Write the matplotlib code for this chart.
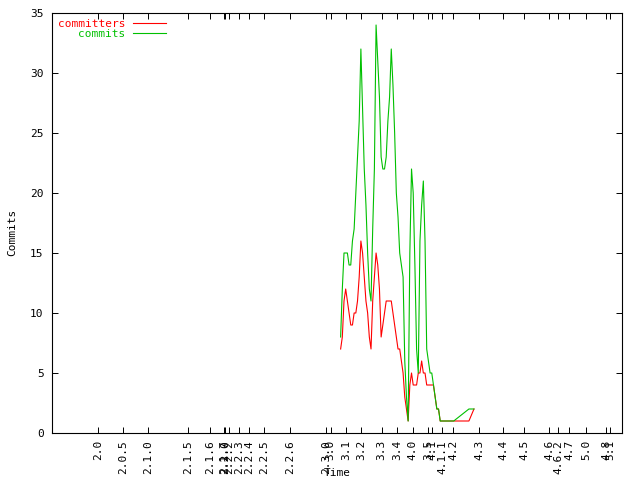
import numpy as np
import matplotlib
matplotlib.use("Agg")
import matplotlib.pyplot as plt

# time axis in weeks since start of the project history
weeks = [171, 172, 173, 174, 175, 176, 177, 178, 179, 180,
         181, 182, 183, 184, 185, 186, 187, 188, 189, 190,
         191, 192, 193, 194, 195, 196, 197, 198, 199, 200,
         201, 202, 203, 204, 205, 206, 207, 208, 209, 210,
         211, 212, 213, 214, 215, 216, 217, 218, 219, 220,
         221, 222, 223, 224, 225, 226, 227, 228, 229, 230,
         231, 238, 247, 250]

commits = [8, 12, 15, 15, 15, 14, 14, 16, 17, 20,
           23, 26, 32, 27, 22, 19, 15, 12, 11, 17,
           22, 34, 31, 28, 23, 22, 22, 23, 26, 28,
           32, 29, 25, 20, 18, 15, 14, 13, 6, 3,
           1, 15, 22, 20, 14, 7, 5, 16, 19, 21,
           16, 7, 6, 5, 5, 4, 3, 2, 2, 1,
           1, 1, 2, 2]

committers = [7, 8, 11, 12, 11, 10, 9, 9, 10, 10,
              11, 13, 16, 15, 13, 11, 10, 8, 7, 11,
              13, 15, 14, 12, 8, 9, 10, 11, 11, 11,
              11, 10, 9, 8, 7, 7, 6, 5, 3, 2,
              1, 4, 5, 4, 4, 4, 5, 5, 6, 5,
              5, 4, 4, 4, 4, 4, 3, 2, 2, 1,
              1, 1, 1, 2]

release_weeks = [27.1, 41.9, 57.1, 80.7, 93.6, 102.0, 102.7, 105.0, 111.0, 116.9,
                 125.8, 141.0, 162.3, 165.1, 174.2, 183.1, 195.3, 204.6, 213.7, 222.6,
                 225.1, 231.2, 237.7, 253.0, 267.4, 279.8, 294.6, 299.9, 306.5, 316.4,
                 328.2, 330.7]
release_labels = ["2.0", "2.0.5", "2.1.0", "2.1.5", "2.1.6", "2.1.7", "2.2.0", "2.2.2", "2.2.3", "2.2.4",
                  "2.2.5", "2.2.6", "2.3.0", "3.0", "3.1", "3.2", "3.3", "3.4", "4.0", "3.5",
                  "4.1", "4.1.1", "4.2", "4.3", "4.4", "4.5", "4.6", "4.6.2", "4.7", "5.0",
                  "4.8", "5.1"]

plt.rcParams['font.family'] = 'DejaVu Sans Mono'
plt.rcParams['font.size'] = 8

fig = plt.figure(figsize=(6.4, 4.8), dpi=100)
ax = fig.add_axes([52/640, 47/480, 570/640, 420/480])

ax.plot(weeks, committers, color='#ff0000', lw=0.8, label='committers')
ax.plot(weeks, commits, color='#00c000', lw=0.8, label='commits')

ax.set_xlim(0, 337.7)
ax.set_ylim(0, 35)
ax.set_yticks(np.arange(0, 36, 5))
ax.set_xticks(release_weeks)
ax.set_xticklabels(release_labels, rotation=90, va='top', ha='center')

ax.tick_params(direction='in', top=True, right=True, length=4.3, width=0.7)
ax.tick_params(axis='x', pad=5)
ax.tick_params(axis='y', pad=6)
for s in ax.spines.values():
    s.set_linewidth(0.8)

leg = ax.legend(loc='upper left', bbox_to_anchor=(0.0, 1.0), frameon=False,
                markerfirst=False, handlelength=3.0, handletextpad=0.7,
                labelspacing=0.0, borderpad=0.3, borderaxespad=0.2,
                labelcolor='linecolor')

fig.text(12/640, 1 - 232/480, 'Commits', rotation=90, ha='center', va='center')
fig.text(337/640, 1 - 473/480, 'Time', ha='center', va='center')

fig.savefig('out.png', dpi=100)
